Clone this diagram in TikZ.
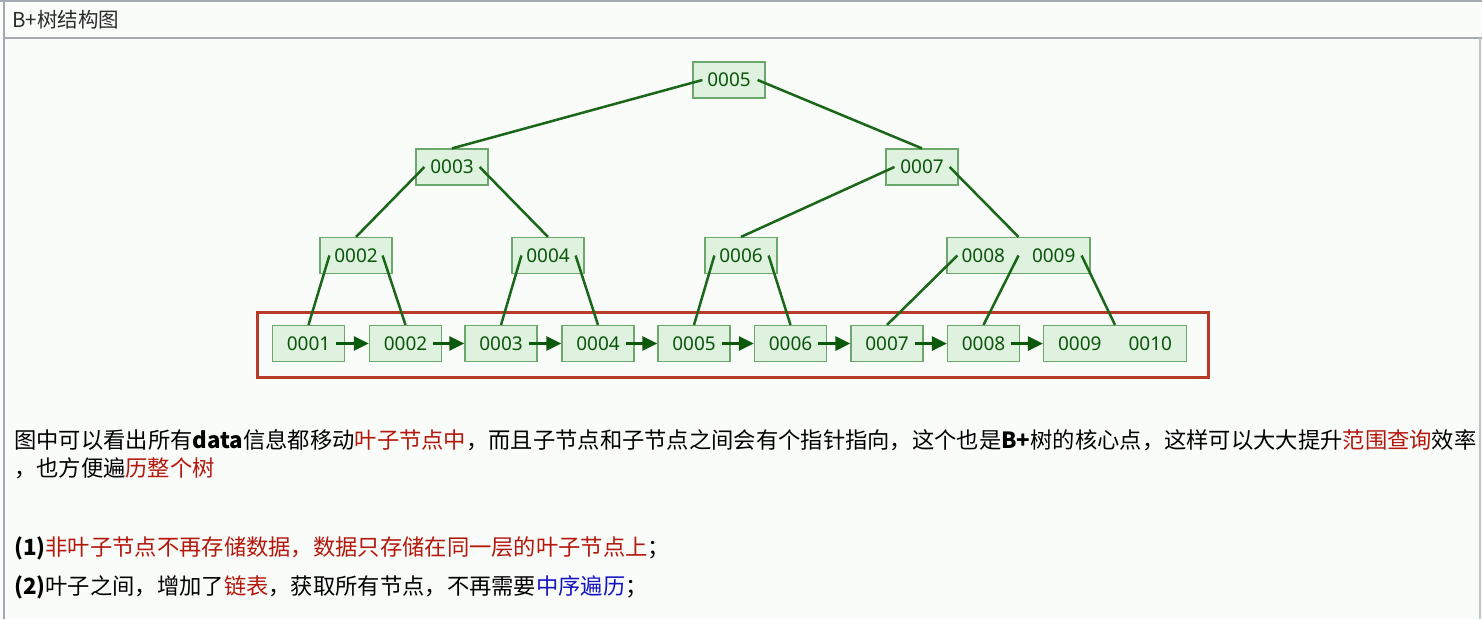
\documentclass[tikz,border=0pt]{standalone}
\usepackage{fontspec}
\setmainfont{Noto Sans CJK SC}
\newfontfamily\numfont{Noto Sans}
\usetikzlibrary{arrows.meta}
\definecolor{pagebg}{HTML}{FAFCFA}
\definecolor{frameline}{HTML}{A4AAB0}
\definecolor{boxfill}{HTML}{DFF2DF}
\definecolor{boxline}{HTML}{6CA86C}
\definecolor{keytext}{HTML}{0A550A}
\definecolor{treeline}{HTML}{1A671A}
\definecolor{linkline}{HTML}{0B5A0B}
\definecolor{hilite}{HTML}{B83A28}
\definecolor{redtxt}{HTML}{B4180C}
\definecolor{bluetxt}{HTML}{1414C0}
\definecolor{titletxt}{HTML}{2A2A2A}
\begin{document}
\begin{tikzpicture}[x=1pt,y=-1pt,
  keybox/.style={draw=boxline, fill=boxfill, line width=1.2pt,
    minimum width=72pt, minimum height=36pt, inner sep=0pt,
    font=\numfont\fontsize{19}{21}\selectfont, text=keytext},
  widebox/.style={keybox, minimum width=143pt},
  edge/.style={draw=treeline, line width=2.5pt},
  link/.style={draw=linkline, line width=2.8pt, -{Triangle[length=15pt,width=14pt]}},
  para/.style={anchor=base west, inner sep=0pt, font=\fontsize{22.3}{27}\selectfont},
]
% page and window frame
\useasboundingbox (0,0) rectangle (1482,619);
\fill[pagebg] (0,0) rectangle (1482,619);
\draw[frameline, line width=1.5pt] (0,1) -- (1482,1);
\draw[frameline, line width=2pt] (5,37.5) -- (1482,37.5);
\draw[frameline, line width=2pt] (4,0) -- (4,619);
\draw[frameline!70, line width=2pt] (1480,38) -- (1480,619);
\node[anchor=base west, inner sep=0pt, text=titletxt, font=\fontsize{20.5}{24}\selectfont] (title) at (12,27.5) {B+树结构图};

% inner nodes
\node[keybox] (n5) at (729,80) {0005};
\node[keybox] (n3) at (452,167) {0003};
\node[keybox] (n7) at (922,167) {0007};
\node[keybox] (n2) at (356,255.5) {0002};
\node[keybox] (n4) at (548,255.5) {0004};
\node[keybox] (n6) at (741,255.5) {0006};
\node[widebox] (n89) at (1018.5,255.5) {0008\hspace{27pt}0009};

% leaf nodes
\node[keybox] (l1) at (308.5,343.5) {0001};
\node[keybox] (l2) at (405.5,343.5) {0002};
\node[keybox] (l3) at (501,343.5) {0003};
\node[keybox] (l4) at (598,343.5) {0004};
\node[keybox] (l5) at (694,343.5) {0005};
\node[keybox] (l6) at (790.5,343.5) {0006};
\node[keybox] (l7) at (887,343.5) {0007};
\node[keybox] (l8) at (983.5,343.5) {0008};
\node[widebox] (l9) at (1115,343.5) {0009\hspace{27pt}0010};

% leaf level highlight
\draw[hilite, line width=3pt] (257,312) rectangle (1208,377);

% tree edges
\draw[edge] ([xshift=10pt]n5.west) -- (n3.north);
\draw[edge] ([xshift=-8pt]n5.east) -- (n7.north);
\draw[edge] ([xshift=9pt]n3.west) -- (n2.north);
\draw[edge] ([xshift=-9pt]n3.east) -- (n4.north);
\draw[edge] ([xshift=9pt]n7.west) -- (n6.north);
\draw[edge] ([xshift=-9pt]n7.east) -- (n89.north);
\draw[edge] ([xshift=10pt]n2.west) -- (l1.north);
\draw[edge] ([xshift=-10pt]n2.east) -- (l2.north);
\draw[edge] ([xshift=10pt]n4.west) -- (l3.north);
\draw[edge] ([xshift=-9pt]n4.east) -- (l4.north);
\draw[edge] ([xshift=10pt]n6.west) -- (l5.north);
\draw[edge] ([xshift=-9pt]n6.east) -- (l6.north);
\draw[edge] ([xshift=11pt]n89.west) -- (l7.north);
\draw[edge] (n89.center) -- (l8.north);
\draw[edge] ([xshift=-9pt]n89.east) -- (l9.north);

% leaf links
\draw[link] ([xshift=-9pt]l1.east) -- (l2.west);
\draw[link] ([xshift=-9pt]l2.east) -- (l3.west);
\draw[link] ([xshift=-9pt]l3.east) -- (l4.west);
\draw[link] ([xshift=-9pt]l4.east) -- (l5.west);
\draw[link] ([xshift=-9pt]l5.east) -- (l6.west);
\draw[link] ([xshift=-9pt]l6.east) -- (l7.west);
\draw[link] ([xshift=-9pt]l7.east) -- (l8.west);
\draw[link] ([xshift=-9pt]l8.east) -- (l9.west);

% explanation text
\node[para] (p1) at (14,448) {图中可以看出所有{\bfseries data}信息都移动\textcolor{redtxt}{叶子节点中}，而且子节点和子节点之间会有个指针指向，这个也是{\bfseries B+}树的核心点，这样可以大大提升\textcolor{redtxt}{范围查询}效率};
\node[para] (p2) at (14,476) {，也方便遍\textcolor{redtxt}{历整个树}};
\node[para] (p3) at (14,555) {{\bfseries (1)}\textcolor{redtxt}{非叶子节点不再存储数据，数据只存储在同一层的叶子节点上}；};
\node[para] (p4) at (14,594) {{\bfseries (2)}叶子之间，增加了\textcolor{redtxt}{链表}，获取所有节点，不再需要\textcolor{bluetxt}{中序遍历}；};
\end{tikzpicture}
\end{document}
